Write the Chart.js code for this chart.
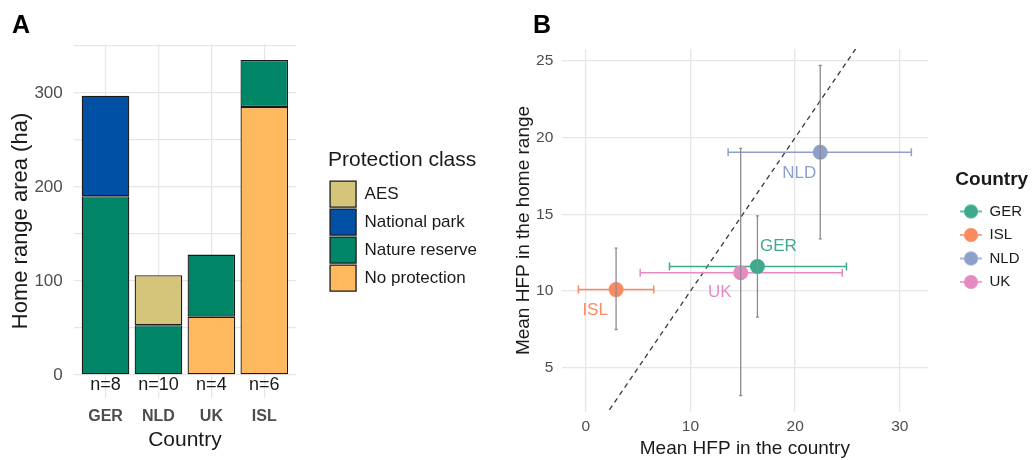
<!DOCTYPE html>
<html>
<head>
<meta charset="utf-8">
<script src="https://cdn.jsdelivr.net/npm/chart.js@4.4.1/dist/chart.umd.min.js"></script>
<style>
  html, body { margin: 0; padding: 0; background: #fff; }
  #wrap { position: relative; width: 1033px; height: 460px; }
  canvas { position: absolute; top: 0; }
  #rangeChart { left: 0; }
  #hfpChart { left: 490px; }
</style>
</head>
<body>
<div id="wrap">
  <canvas id="rangeChart" width="490" height="460"></canvas>
  <canvas id="hfpChart" width="543" height="460"></canvas>
</div>
<script>
// Panel A: home range area split by protection class
const countriesA = ['GER', 'NLD', 'UK', 'ISL'];
const sampleSizes = [8, 10, 4, 6];
const noProtection = [null, null, 62, 285];
const natureReserve = [190, 53, 66, 50];
const nationalPark = [107, null, null, null];
const aes = [null, 53, null, null];
const gridA = [0, 50, 100, 150, 200, 250, 300, 350];
const tickLabelsA = [0, 100, 200, 300];

// Panel B: mean HFP in the country vs in the home range
const countriesB = ['GER', 'ISL', 'NLD', 'UK'];
const hfpCountry = [16.4, 2.9, 22.4, 14.8];
const hfpCountryLow = [8.0, -0.7, 13.6, 5.2];
const hfpCountryHigh = [24.9, 6.5, 31.1, 24.5];
const hfpHome = [11.6, 10.1, 19.05, 11.2];
const hfpHomeLow = [8.3, 7.5, 13.4, 3.2];
const hfpHomeHigh = [14.9, 12.8, 24.7, 19.3];
const identityLine = [-5, 40];
const xTicksB = [0, 10, 20, 30];
const yTicksB = [5, 10, 15, 20, 25];

const FONT = "'Liberation Sans', Arial, sans-serif";
const INK = '#1a1a1a';
const TICK = '#4d4d4d';
const GRID = '#e6e6e6';
const classColors = {
  'AES': '#D4C57A',
  'National park': '#0051A5',
  'Nature reserve': '#008566',
  'No protection': '#FEB95E'
};
const countryColors = ['#3DAA8E', '#FC8A60', '#8DA0CB', '#E78AC3'];
const labelNudge = [[2, 1.3], [-2, -1.35], [-2, -1.35], [-2, -1.3]];

function panelTag(letter, x, y) {
  return {
    id: 'panelTag',
    afterDraw(chart) {
      const ctx = chart.ctx;
      ctx.save();
      ctx.font = 'bold 25px ' + FONT;
      ctx.fillStyle = '#000';
      ctx.textBaseline = 'alphabetic';
      ctx.fillText(letter, x, y);
      ctx.restore();
    }
  };
}

const sampleLabels = {
  id: 'sampleLabels',
  afterDatasetsDraw(chart) {
    const { ctx, scales: { x, y } } = chart;
    ctx.save();
    ctx.font = '18px ' + FONT;
    ctx.fillStyle = INK;
    ctx.textAlign = 'center';
    ctx.textBaseline = 'middle';
    sampleSizes.forEach((n, i) => {
      ctx.fillText('n=' + n, x.getPixelForValue(i + 1), y.getPixelForValue(-11));
    });
    ctx.restore();
  }
};

const countryLabels = {
  id: 'countryLabels',
  afterDatasetsDraw(chart) {
    const { ctx, scales: { x, y } } = chart;
    ctx.save();
    ctx.font = '17px ' + FONT;
    ctx.textAlign = 'center';
    ctx.textBaseline = 'middle';
    countriesB.forEach((c, i) => {
      ctx.fillStyle = countryColors[i];
      ctx.fillText(c, x.getPixelForValue(hfpCountry[i] + labelNudge[i][0]),
        y.getPixelForValue(hfpHome[i] + labelNudge[i][1]));
    });
    ctx.restore();
  }
};

// legend key like ggplot's pointrange: dot with a line through it
function keyIcon(color) {
  const c = document.createElement('canvas');
  c.width = 22; c.height = 16;
  const g = c.getContext('2d');
  g.strokeStyle = color;
  g.lineWidth = 1.5;
  g.beginPath(); g.moveTo(0, 8); g.lineTo(22, 8); g.stroke();
  g.fillStyle = color;
  g.beginPath(); g.arc(11, 8, 7, 0, Math.PI * 2); g.fill();
  return c;
}

const bar = (label, values) => ({
  label: label,
  data: values.map((v, i) => ({ x: i + 1, y: v })),
  backgroundColor: classColors[label],
  borderColor: INK,
  borderWidth: 1.3,
  borderSkipped: false,
  barPercentage: 0.9,
  categoryPercentage: 1
});

const gapAxis = w => ({
  type: 'linear', position: 'right', display: true,
  grid: { display: false }, border: { display: false }, ticks: { display: false },
  afterFit: s => { s.width = w; }
});

new Chart(document.getElementById('rangeChart'), {
  type: 'bar',
  data: {
    datasets: [
      bar('No protection', noProtection),
      bar('Nature reserve', natureReserve),
      bar('National park', nationalPark),
      bar('AES', aes)
    ]
  },
  options: {
    responsive: false,
    animation: false,
    events: [],
    layout: { padding: { top: 44, left: 8, right: 3, bottom: 7 } },
    plugins: {
      tooltip: { enabled: false },
      legend: {
        position: 'right',
        fullSize: false,
        reverse: true,
        maxWidth: 220,
        title: { display: true, text: 'Protection class', color: INK, position: 'start',
          font: { family: FONT, size: 21 }, padding: { top: 1, bottom: 4 } },
        labels: { boxWidth: 26, boxHeight: 26, padding: 2, color: INK,
          font: { family: FONT, size: 17 } }
      }
    },
    scales: {
      x: {
        type: 'linear', stacked: true, min: 0.4, max: 4.6, offset: false,
        afterBuildTicks: s => { s.ticks = countriesA.map((c, i) => ({ value: i + 1 })); },
        grid: { color: GRID, lineWidth: 1.2, drawTicks: false, offset: false },
        border: { display: false },
        ticks: { autoSkip: false, padding: 9, color: TICK,
          font: { family: FONT, size: 16, weight: 'bold' },
          callback: (v, i) => countriesA[i] },
        title: { display: true, text: 'Country', color: INK,
          font: { family: FONT, size: 21 }, padding: { top: -7.4, bottom: 0 } }
      },
      y: {
        stacked: true, min: -24.5, max: 352,
        afterBuildTicks: s => { s.ticks = gridA.map(v => ({ value: v })); },
        grid: { color: GRID, lineWidth: 1.2, drawTicks: false },
        border: { display: false },
        ticks: { autoSkip: false, padding: 11, color: TICK,
          font: { family: FONT, size: 17 },
          callback: v => tickLabelsA.includes(v) ? v : '' },
        title: { display: true, text: 'Home range area (ha)', color: INK,
          font: { family: FONT, size: 22 }, padding: { top: 0, bottom: -11 } }
      },
      gap: gapAxis(32)
    }
  },
  plugins: [sampleLabels, panelTag('A', 12, 33)]
});

const vBars = countriesB.map((c, i) => ({
  label: c + ' home range',
  data: [{ x: hfpCountry[i], y: hfpHomeLow[i] }, { x: hfpCountry[i], y: hfpHomeHigh[i] }],
  showLine: true,
  borderColor: '#8c8c8c',
  borderWidth: 1.3,
  pointStyle: 'line',
  rotation: 0,
  pointRadius: 1.5,
  pointBorderColor: '#8c8c8c',
  pointBorderWidth: 1.3
}));

const points = countriesB.map((c, i) => ({
  label: c,
  data: [{ x: hfpCountry[i], y: hfpHome[i] }],
  pointRadius: 7.5,
  backgroundColor: countryColors[i],
  borderWidth: 0,
  pointBorderWidth: 0
}));

const hBars = countriesB.map((c, i) => ({
  label: c + ' country',
  data: [{ x: hfpCountryLow[i], y: hfpHome[i] }, { x: hfpCountryHigh[i], y: hfpHome[i] }],
  showLine: true,
  borderColor: countryColors[i],
  borderWidth: 1.5,
  pointStyle: 'line',
  rotation: 90,
  pointRadius: 4,
  pointBorderColor: countryColors[i],
  pointBorderWidth: 1.5
}));

const identity = {
  label: '1:1',
  data: identityLine.map(v => ({ x: v, y: v })),
  showLine: true,
  borderColor: '#3a3a3a',
  borderWidth: 1.3,
  borderDash: [5, 4],
  pointRadius: 0
};

new Chart(document.getElementById('hfpChart'), {
  type: 'scatter',
  data: { datasets: [...vBars, ...points, ...hBars, identity] },
  options: {
    responsive: false,
    animation: false,
    events: [],
    layout: { padding: { top: 49, left: 22, right: 1, bottom: 0 } },
    plugins: {
      tooltip: { enabled: false },
      legend: {
        position: 'right',
        fullSize: false,
        maxWidth: 200,
        title: { display: true, text: 'Country', color: INK,
          font: { family: FONT, size: 19, weight: 'bold' }, padding: { top: 7.5, bottom: 2.2 } },
        labels: {
          usePointStyle: true, pointStyleWidth: 22, padding: 8.5, color: INK,
          font: { family: FONT, size: 15 },
          generateLabels: () => countriesB.map((c, i) => ({
            text: c,
            pointStyle: keyIcon(countryColors[i]),
            fillStyle: countryColors[i],
            strokeStyle: countryColors[i],
            lineWidth: 0,
            fontColor: INK,
            hidden: false,
            datasetIndex: vBars.length + i
          }))
        }
      }
    },
    scales: {
      x: {
        type: 'linear', min: -2.29, max: 32.69,
        afterBuildTicks: s => { s.ticks = xTicksB.map(v => ({ value: v })); },
        grid: { color: GRID, lineWidth: 1.3, drawTicks: false },
        border: { display: false },
        ticks: { padding: 5.7, color: TICK, font: { family: FONT, size: 15.5 } },
        title: { display: true, text: 'Mean HFP in the country', color: INK,
          font: { family: FONT, size: 19 }, padding: { top: -4.8, bottom: 0 } }
      },
      y: {
        type: 'linear', min: 2.125, max: 25.775,
        afterBuildTicks: s => { s.ticks = yTicksB.map(v => ({ value: v })); },
        grid: { color: GRID, lineWidth: 1.3, drawTicks: false },
        border: { display: false },
        ticks: { padding: 8.4, color: TICK, font: { family: FONT, size: 15.5 } },
        title: { display: true, text: 'Mean HFP in the home range', color: INK,
          font: { family: FONT, size: 19 }, padding: { top: 0, bottom: -7.1 } }
      },
      gap: gapAxis(23.5)
    }
  },
  plugins: [countryLabels, panelTag('B', 43, 33)]
});
</script>
</body>
</html>
